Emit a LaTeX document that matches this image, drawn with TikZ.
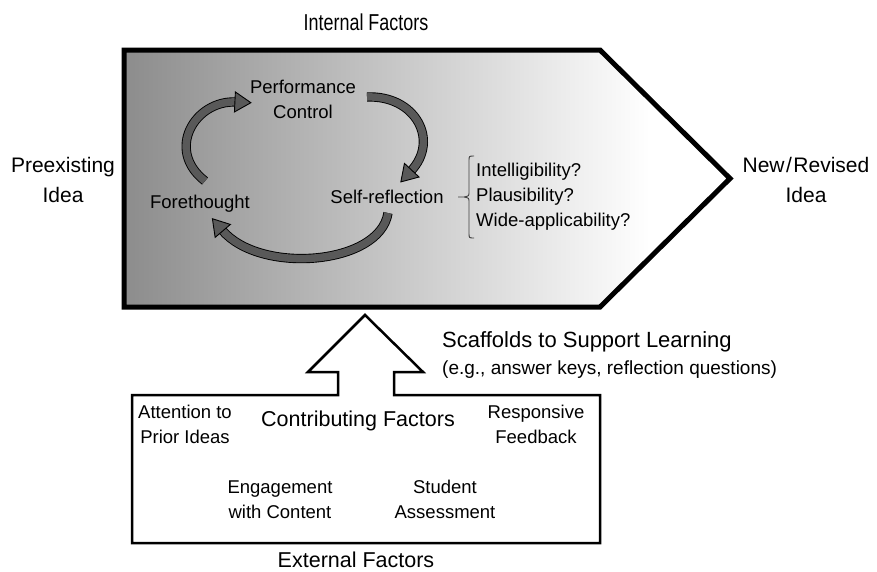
\documentclass[tikz,border=0pt]{standalone}
\usepackage{fontspec}
\setmainfont{Liberation Sans}
\newfontfamily\narrowfont[FakeStretch=0.78]{Liberation Sans}
\usetikzlibrary{decorations.markings}
\definecolor{arrowgray}{gray}{0.35}
\definecolor{shadegray}{gray}{0.55}
\begin{document}
\begin{tikzpicture}[x=1pt,y=-1pt,
  lbl/.style={inner sep=0pt, anchor=base, align=center, font=\fontsize{18.5}{25}\selectfont},
  biglbl/.style={inner sep=0pt, anchor=base, align=center, font=\fontsize{21}{30}\selectfont},
  cyc/.style={draw=black, line width=0.9pt, double=arrowgray, double distance=7.5pt},
  cychead/.style={decorate, decoration={markings, mark=at position 0.999 with {\draw[line width=0.9pt, fill=arrowgray, line join=miter] (-1,-10) -- (15,0) -- (-1,10) -- cycle;}}}
]
\useasboundingbox (0,0) rectangle (877,571);

% pentagon with shading
\begin{scope}
\clip (124,50) -- (600,50) -- (730,178.5) -- (600,307) -- (124,307) -- cycle;
\shade[left color=shadegray, right color=white] (124,50) rectangle (650,307);
\fill[white] (649,40) rectangle (740,320);
\end{scope}
\draw[line width=5pt, line join=miter] (124,50) -- (600,50) -- (730,178.5) -- (600,307) -- (124,307) -- cycle;

% up arrow + external box
\draw[line width=2.5pt, fill=white, line join=miter]
  (338,395) -- (132,395) -- (132,543) -- (600,543) -- (600,395) -- (394,395)
  -- (394,372) -- (423,372) -- (365,315) -- (308,372) -- (338,372) -- cycle;

% texts
\node[inner sep=0pt, anchor=base, font=\fontsize{23}{25}\selectfont\narrowfont] (internal) at (366,30) {Internal Factors};
\node[biglbl] (pre) at (63,202) {Preexisting\\Idea};
\node[biglbl] (new) at (806,202) {New\kern1.5pt/\kern1.5pt Revised\\Idea};

\node[lbl] (perf) at (303,118) {Performance\\Control};
\node[lbl] (fore) at (200,208) {Forethought};
\node[lbl] (self) at (387,203) {Self-reflection};
\node[lbl, anchor=base west, align=left] (crit) at (476,226) {Intelligibility?\\Plausibility?\\Wide-applicability?};

\node[inner sep=0pt, anchor=base west, font=\fontsize{22}{25}\selectfont] (scaf) at (442,347) {Scaffolds to Support Learning};
\node[inner sep=0pt, anchor=base west, font=\fontsize{19}{25}\selectfont] (eg) at (442,374) {(e.g., answer keys, reflection questions)};

\node[lbl] (attn) at (185,443) {Attention to\\Prior Ideas};
\node[inner sep=0pt, anchor=base, font=\fontsize{21.5}{25}\selectfont] (contrib) at (358,426) {Contributing Factors};
\node[lbl] (resp) at (536,443) {Responsive\\Feedback};
\node[lbl] (eng) at (280,518) {Engagement\\with Content};
\node[lbl] (stud) at (445,518) {Student\\Assessment};
\node[inner sep=0pt, anchor=base, font=\fontsize{21.5}{25}\selectfont] (ext) at (356,567) {External Factors};

% cycle arrows
\draw[cyc] (205,181) .. controls (165,150) and (195,100) .. (236,102);
\path[cychead] (205,181) .. controls (165,150) and (195,100) .. (236,102);
\draw[cyc] (367,97) .. controls (415,95) and (440,140) .. (411,171);
\path[cychead] (367,97) .. controls (415,95) and (440,140) .. (411,171);
\draw[cyc] (388,213) .. controls (380,265) and (260,275) .. (222,230);
\path[cychead] (388,213) .. controls (380,265) and (260,275) .. (222,230);

% brace
\draw[line width=0.9pt, black!75]
  (474,156) .. controls (469,156) .. (469,161) -- (469,192) .. controls (469,196) .. (464,197) -- (458,197)
  (464,197) .. controls (469,198) .. (469,202) -- (469,233) .. controls (469,238) .. (474,238);
\end{tikzpicture}
\end{document}
